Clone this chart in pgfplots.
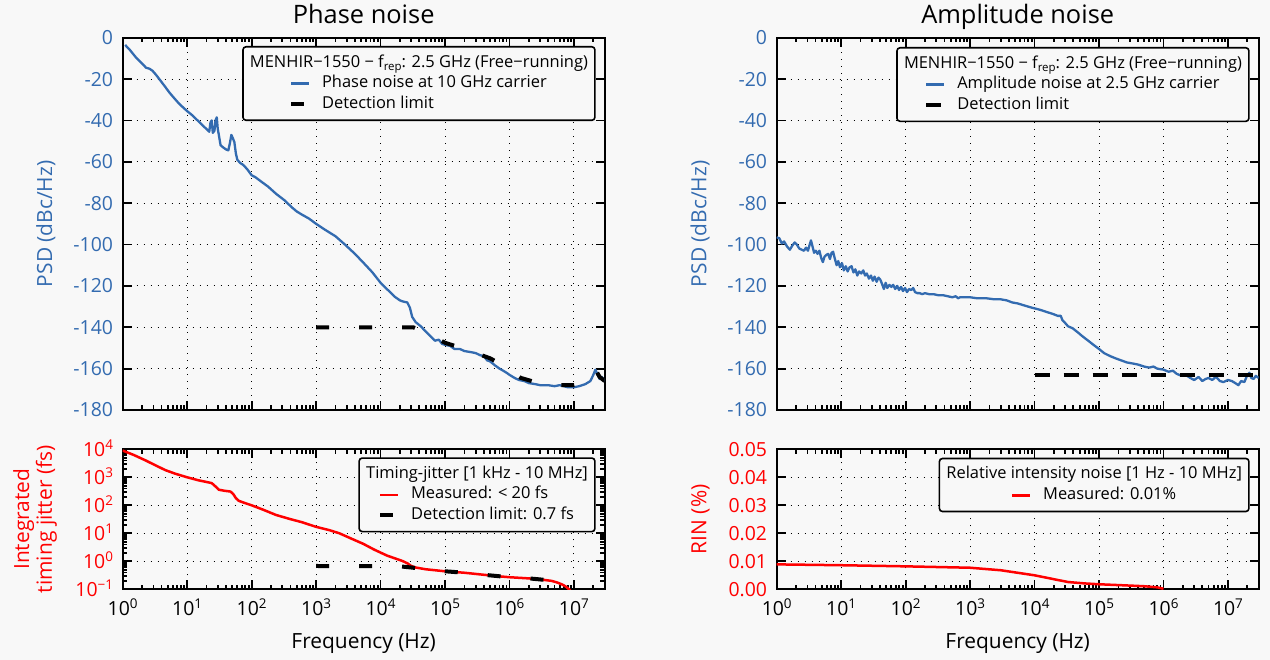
\documentclass[border=0pt]{standalone}
\usepackage{fontspec}
\setmainfont{Open Sans}
\usepackage{pgfplots}
\usepackage{pgfplotstable}
\pgfplotsset{compat=1.18}
\definecolor{bgc}{RGB}{248,248,248}
\definecolor{pnblue}{RGB}{51,107,176}
\newcommand\ticksize{\fontsize{19.5}{21}\selectfont}
\newcommand\labsize{\fontsize{21}{23}\selectfont}
\newcommand\titsize{\fontsize{25.5}{28}\selectfont}
\newcommand\legfont{\fontsize{16.5}{19}\selectfont}
\newcommand\sups[1]{\raisebox{6.5bp}{\fontsize{13.5}{14}\selectfont #1}}
\newcommand\rep{\raisebox{-3.5bp}{\fontsize{11.5}{12}\selectfont rep}}
\newlength\Ttl \newlength\Ent
\newlength\WA \newlength\SA \newlength\WB \newlength\SB
\newlength\WC \newlength\SC \newlength\WD \newlength\SD
\newcommand\legsetup[4]{%
  \settowidth\Ttl{\legfont #3}\settowidth\Ent{\legfont #4}%
  \setlength#2{\dimexpr(\Ttl+14bp-31bp-\Ent)/2\relax}%
  \setlength#1{\dimexpr#2+31bp\relax}}
\newcommand\legtitle[2]{\hspace*{\dimexpr7bp-#1\relax}#2\hspace*{7bp}}
\newcommand\MenTitle{MENHIR−1550 − f\rep: 2.5 GHz (Free−running)}

\pgfplotstableread{
f v
1.09 -3.5
1.3 -6
1.6 -9.5
2.0 -12.5
2.3 -14.5
2.6 -15
2.9 -16
3.3 -18
3.8 -20.5
4.5 -23.5
5.3 -26.5
6.2 -29
7.3 -31.5
8.5 -33.5
10 -35.5
12 -37.5
14.5 -40
17.5 -42.5
20.5 -44.5
22 -45.5
23 -41
24 -40
25 -46
26.5 -45
27.5 -40
28.8 -38.5
29.8 -44
31 -47
33 -52
36 -53
40 -54
43.5 -54.5
46 -51
48.5 -47
51 -48.5
54 -50.5
57 -56
60 -59
66 -60.5
74 -61.5
85 -63.5
100 -66.5
115 -67.5
140 -69.5
180 -72
240 -75.5
320 -78.5
420 -82
500 -84
600 -85.5
780 -87.5
1000 -90
1400 -93
2000 -96
2800 -100
4000 -104.5
5500 -109
7500 -113.5
10000 -118.5
13500 -122.5
17000 -125.5
20000 -127
22000 -127.5
26000 -128
28500 -130.5
31000 -135
35000 -137.5
42000 -139.5
50000 -142
60000 -144.5
70000 -146.5
80000 -146
90000 -148
100000 -148.5
120000 -149
140000 -150.5
170000 -150.5
200000 -151.5
250000 -152
300000 -152.5
350000 -153.5
400000 -154
450000 -156
500000 -156.5
600000 -158.5
700000 -160
800000 -161
900000 -162
1000000 -163
1200000 -164.5
1400000 -165.5
1700000 -166
2000000 -167
2500000 -167.5
3000000 -168
4000000 -168
5000000 -168.5
6000000 -168
7000000 -168.5
8000000 -169
10000000 -169
12000000 -168.5
15000000 -167.5
18000000 -166
20000000 -163
21500000 -160.5
23000000 -162.5
25000000 -165
27000000 -164
30000000 -166
}\phasenoise

\pgfplotstableread{
f v
1000 -140
32000 -140
50000 -142.5
100000 -147.5
200000 -150.5
300000 -152.5
500000 -155
700000 -157.5
1000000 -161
1500000 -164.5
2500000 -166.5
5000000 -168
10000000 -168
15000000 -167
20000000 -163
22000000 -161
25000000 -164
30000000 -166
}\phaselimit

\pgfplotstableread{
f v
1 9000
1.5 6200
2.27 4000
3.2 2700
4.6 1800
6.5 1350
10 1000
15 780
20 680
24 620
26 530
29 420
31 360
38 330
47 310
52 250
57 180
63 145
75 125
100 100
150 70
240 45
400 32
600 25
1000 17
1600 13
2300 10
3500 6.5
5400 4.2
8000 2.6
12600 1.6
18000 1.2
22000 1.02
26000 0.85
30000 0.68
35000 0.6
50000 0.52
100000 0.44
200000 0.39
400000 0.33
700000 0.29
1000000 0.27
2000000 0.245
3000000 0.225
4500000 0.2
5500000 0.175
6500000 0.15
7300000 0.13
8000000 0.11
8400000 0.1
8700000 0.09
}\jitter

\pgfplotstableread{
f v
1000 0.68
20000 0.66
30000 0.6
50000 0.52
100000 0.44
200000 0.39
400000 0.33
1000000 0.27
2000000 0.245
3000000 0.225
5000000 0.2
}\jitterlimit

\pgfplotstableread{
f v
1 -96.5
1.1 -97
1.2 -99.5
1.3 -98.5
1.45 -101
1.6 -102.5
1.75 -100.5
1.9 -99
2.05 -100
2.25 -102
2.45 -102.5
2.65 -103
2.85 -101.5
3.05 -103
3.25 -100
3.4 -98
3.6 -101
3.8 -104
4.05 -103
4.3 -104.5
4.6 -103
4.9 -106.5
5.2 -108.5
5.5 -106
5.9 -105
6.3 -104.5
6.7 -107
7.1 -104
7.5 -103.5
8 -107
8.5 -110
9 -108
9.6 -111
10.3 -109
11 -112.5
11.8 -110.5
12.6 -113
13.5 -111
14.5 -110.5
15.5 -113.5
16.6 -112
17.8 -115
19 -113
20.5 -114
22 -112.5
23.5 -115
25 -114
27 -116.5
29 -115
31 -117.5
33 -115.5
35.5 -118
38 -116
40.5 -117
43 -119
46 -121.5
49 -118.5
52 -121
56 -119.5
60 -120.5
64 -119.5
69 -121.5
74 -120
79 -122
85 -120.5
91 -122.5
98 -121
105 -123
113 -121.5
122 -122
131 -121
140 -123
152 -123.5
165 -123.5
180 -124
200 -123.5
230 -124
270 -124
320 -124.5
380 -124.5
450 -125
530 -125.5
600 -125
650 -126
700 -125.5
800 -125.5
1000 -125.5
1300 -126
1800 -126
2400 -126.5
3000 -126.5
3700 -127
4500 -128
5500 -128.5
7000 -129.5
9000 -130.5
12000 -131.5
15000 -132.5
19000 -133.5
23000 -134.5
25500 -134.5
27000 -136.5
29000 -137.5
33000 -139.5
39000 -140.5
47000 -142.5
56000 -144.5
68000 -146.5
82000 -148.5
100000 -150.5
120000 -152.5
150000 -154
180000 -155
220000 -156
270000 -157
330000 -157.5
400000 -158
500000 -159
600000 -159.5
700000 -159
800000 -160
1000000 -160.5
1200000 -161.5
1400000 -161
1600000 -162.5
1900000 -163.5
2200000 -163
2600000 -164.5
3000000 -165.5
3500000 -164
4000000 -166
4500000 -165
5000000 -164.5
5700000 -165.5
6500000 -164
7500000 -166
8500000 -166.5
10000000 -165.5
11500000 -166
13000000 -167
14500000 -168
16000000 -166
18000000 -166.5
20000000 -163
21500000 -162
23000000 -164.5
25000000 -165
27000000 -163.5
30000000 -164.5
}\ampnoise

\pgfplotstableread{
f v
10000 -163.3
30000000 -163.3
}\amplimit

\pgfplotstableread{
f v
1 0.0089
10 0.0086
100 0.0082
1000 0.0077
3000 0.0068
10000 0.0050
20000 0.0036
33000 0.0026
60000 0.0021
100000 0.0018
320000 0.0013
500000 0.0011
800000 0.0007
1000000 0.0002
}\rin

\pgfplotsset{
  every axis/.append style={
    scale only axis, width=482bp, xmin=1, xmax=3e7,
    tick align=inside, xtick pos=both, ytick pos=both,
    major tick length=9bp, minor tick length=4.5bp,
    tick style={black, line width=1.8bp},
    axis line style={line width=2.2bp},
    grid=major,
    major grid style={black, line width=1bp, dash pattern=on 1.2bp off 5.8bp},
    xtick={1,10,100,1000,10000,100000,1000000,10000000},
    minor xtick={2,3,4,5,6,7,8,9,20,30,40,50,60,70,80,90,200,300,400,500,600,700,800,900,2000,3000,4000,5000,6000,7000,8000,9000,20000,30000,40000,50000,60000,70000,80000,90000,200000,300000,400000,500000,600000,700000,800000,900000,2000000,3000000,4000000,5000000,6000000,7000000,8000000,9000000,20000000,30000000},
    tick label style={font=\ticksize},
    xticklabel style={anchor=base, yshift=-25.7bp, inner sep=0pt},
    yticklabel style={anchor=base east, xshift=-9.5bp, yshift=-7bp, inner sep=0pt},
    xlabel style={font=\labsize, at={(axis description cs:0.5,0)}, anchor=base, yshift=-59bp},
    ylabel style={font=\labsize, anchor=base},
    title style={font=\titsize, at={(axis description cs:0.5,1)}, anchor=base, yshift=8.4bp},
    legend cell align=left,
    legend style={anchor=north east, draw=black, line width=1.6bp, rounded corners=3bp, fill=bgc, inner xsep=0bp, inner ysep=6bp, row sep=0bp, font=\legfont, nodes={inner xsep=0bp, inner ysep=1.75bp, text height=12.5bp, text depth=4.5bp}},
  },
}

\begin{document}%
\legsetup{\WA}{\SA}{\MenTitle}{Phase noise at 10 GHz carrier}%
\legsetup{\WB}{\SB}{Timing-jitter [1 kHz - 10 MHz]}{Detection limit: 0.7 fs}%
\legsetup{\WC}{\SC}{\MenTitle}{Amplitude noise at 2.5 GHz carrier}%
\legsetup{\WD}{\SD}{Relative intensity noise [1 Hz - 10 MHz]}{Measured: 0.01\%}%
\begin{tikzpicture}
\fill[bgc] (0bp,0bp) rectangle (1270bp,660bp);
\useasboundingbox (0bp,0bp) rectangle (1270bp,660bp);

% ---------- Phase noise ----------
\begin{semilogxaxis}[anchor=south west, at={(122.7bp,250bp)}, height=372.3bp,
  ymin=-180, ymax=0,
  ytick={-180,-160,-140,-120,-100,-80,-60,-40,-20,0},
  yticklabels={-180,-160,-140,-120,-100,-80,-60,-40,-20,0},
  yticklabel style={text=pnblue},
  xticklabels={},
  title={Phase noise},
  ylabel={PSD (dBc/Hz)},
  ylabel style={text=pnblue, at={(axis description cs:-0.1466,0.5)}},
  legend style={at={(axis description cs:0.9813,0.9777)}},
  legend image code/.code={\path[draw=none,fill=none] (0bp,0bp) -- (\WA,0bp); \draw[#1] (\SA,0bp) -- ++(18bp,0bp);},
]
\addlegendimage{empty legend}
\addlegendentry{\legtitle{\WA}{\MenTitle}}
\addplot[pnblue, line width=2.3bp, line join=round] table[x=f, y=v] {\phasenoise};
\addlegendentry{Phase noise at 10 GHz carrier}
\addplot[black, line width=4bp, dash pattern=on 13bp off 30bp] table[x=f, y=v] {\phaselimit};
\addlegendentry{Detection limit}
\end{semilogxaxis}

% ---------- Timing jitter ----------
\begin{loglogaxis}[anchor=south west, at={(122.7bp,70.7bp)}, height=140bp,
  ymin=0.1, ymax=10000,
  ytick={0.1,1,10,100,1000,10000},
  yticklabels={10\sups{−1},10\sups{0},10\sups{1},10\sups{2},10\sups{3},10\sups{4}},
  minor ytick={0.2,0.3,0.4,0.5,0.6,0.7,0.8,0.9,2,3,4,5,6,7,8,9,20,30,40,50,60,70,80,90,200,300,400,500,600,700,800,900,2000,3000,4000,5000,6000,7000,8000,9000},
  yticklabel style={text=red},
  xticklabels={10\sups{0},10\sups{1},10\sups{2},10\sups{3},10\sups{4},10\sups{5},10\sups{6},10\sups{7}},
  xlabel={Frequency (Hz)},
  ylabel={Integrated\\timing jitter (fs)},
  ylabel style={text=red, align=center, anchor=center, at={(axis description cs:-0.1818,0.5)}},
  legend style={at={(axis description cs:0.9813,0.943)}},
  legend image code/.code={\path[draw=none,fill=none] (0bp,0bp) -- (\WB,0bp); \draw[#1] (\SB,0bp) -- ++(18bp,0bp);},
]
\addlegendimage{empty legend}
\addlegendentry{\legtitle{\WB}{Timing-jitter [1 kHz - 10 MHz]}}
\addplot[red, line width=2.5bp, line join=round] table[x=f, y=v] {\jitter};
\addlegendentry{Measured: < 20 fs}
\addplot[black, line width=4bp, dash pattern=on 13bp off 30bp] table[x=f, y=v] {\jitterlimit};
\addlegendentry{Detection limit: 0.7 fs}
\end{loglogaxis}

% ---------- Amplitude noise ----------
\begin{semilogxaxis}[anchor=south west, at={(776.7bp,250bp)}, height=372.3bp,
  ymin=-180, ymax=0,
  ytick={-180,-160,-140,-120,-100,-80,-60,-40,-20,0},
  yticklabels={-180,-160,-140,-120,-100,-80,-60,-40,-20,0},
  yticklabel style={text=pnblue},
  xticklabels={},
  title={Amplitude noise},
  ylabel={PSD (dBc/Hz)},
  ylabel style={text=pnblue, at={(axis description cs:-0.1457,0.5)}},
  legend style={at={(axis description cs:0.9813,0.975)}},
  legend image code/.code={\path[draw=none,fill=none] (0bp,0bp) -- (\WC,0bp); \draw[#1] (\SC,0bp) -- ++(18bp,0bp);},
]
\addlegendimage{empty legend}
\addlegendentry{\legtitle{\WC}{\MenTitle}}
\addplot[pnblue, line width=2.3bp, line join=round] table[x=f, y=v] {\ampnoise};
\addlegendentry{Amplitude noise at 2.5 GHz carrier}
\addplot[black, line width=4bp, dash pattern=on 15bp off 14bp] table[x=f, y=v] {\amplimit};
\addlegendentry{Detection limit}
\end{semilogxaxis}

% ---------- RIN ----------
\begin{semilogxaxis}[anchor=south west, at={(776.7bp,70.7bp)}, height=140bp,
  ymin=0, ymax=0.05, scaled y ticks=false,
  ytick={0,0.01,0.02,0.03,0.04,0.05},
  yticklabels={0.00,0.01,0.02,0.03,0.04,0.05},
  yticklabel style={text=red},
  xticklabels={10\sups{0},10\sups{1},10\sups{2},10\sups{3},10\sups{4},10\sups{5},10\sups{6},10\sups{7}},
  xlabel={Frequency (Hz)},
  ylabel={RIN (\%)},
  ylabel style={text=red, at={(axis description cs:-0.1457,0.5)}},
  legend style={at={(axis description cs:0.9813,0.94)}},
  legend image code/.code={\path[draw=none,fill=none] (0bp,0bp) -- (\WD,0bp); \draw[#1] (\SD,0bp) -- ++(18bp,0bp);},
]
\addlegendimage{empty legend}
\addlegendentry{\legtitle{\WD}{Relative intensity noise [1 Hz - 10 MHz]}}
\addplot[red, line width=2.5bp, line join=round] table[x=f, y=v] {\rin};
\addlegendentry{Measured: 0.01\%}
\end{semilogxaxis}
\end{tikzpicture}%
\end{document}
